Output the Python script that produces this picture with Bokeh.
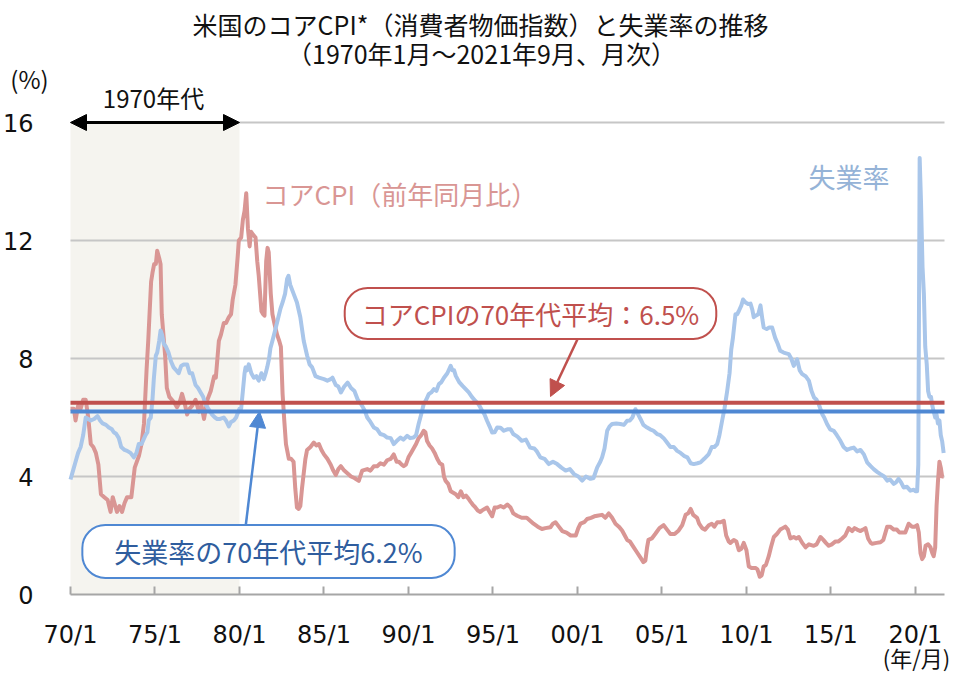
from bokeh.plotting import figure
from bokeh.models import BoxAnnotation, Label, Arrow, NormalHead, FixedTicker, ColumnDataSource
from bokeh.embed import file_html
from bokeh.resources import INLINE

# ---------------- data (decimal year, %) ----------------
cpi_t = [1970.0, 1970.2, 1970.3, 1970.45, 1970.6, 1970.75, 1970.9, 1971.05, 1971.2, 1971.35, 1971.5, 1971.65, 1971.8,
         1972.0, 1972.2, 1972.37, 1972.5, 1972.6, 1972.75, 1972.9, 1973.05, 1973.2, 1973.35, 1973.6, 1973.8,
         1974.05, 1974.2, 1974.35, 1974.5, 1974.6, 1974.77, 1974.85, 1974.95, 1975.05, 1975.13, 1975.25, 1975.33,
         1975.4, 1975.5, 1975.6, 1975.7, 1975.85, 1976.0, 1976.15, 1976.3, 1976.45, 1976.6, 1976.75, 1976.9,
         1977.05, 1977.2, 1977.4, 1977.6, 1977.75, 1977.9, 1978.1, 1978.3, 1978.5, 1978.6, 1978.78, 1978.9,
         1979.07, 1979.2, 1979.37, 1979.5, 1979.6, 1979.76, 1979.9, 1979.96, 1980.1, 1980.2, 1980.3, 1980.4,
         1980.5, 1980.6, 1980.68, 1980.8, 1980.95, 1981.05, 1981.14, 1981.3, 1981.4, 1981.48, 1981.58, 1981.66,
         1981.73, 1981.85, 1981.95, 1982.1, 1982.23, 1982.35, 1982.45, 1982.55, 1982.65, 1982.75, 1982.92,
         1983.05, 1983.2, 1983.3, 1983.4, 1983.5, 1983.6, 1983.7, 1983.8, 1983.9, 1984.0, 1984.2, 1984.4,
         1984.55, 1984.7, 1984.85, 1985.0, 1985.2, 1985.4, 1985.55, 1985.7, 1985.85, 1986.0, 1986.2, 1986.4,
         1986.6, 1986.8, 1987.06, 1987.26, 1987.56, 1987.75, 1987.95, 1988.15, 1988.34, 1988.55, 1988.74,
         1988.95, 1989.13, 1989.3, 1989.43, 1989.6, 1989.72, 1989.85, 1990.0, 1990.15, 1990.3, 1990.45, 1990.6,
         1990.75, 1990.9, 1991.0, 1991.1, 1991.25, 1991.4, 1991.55, 1991.7, 1991.85, 1992.0, 1992.1, 1992.2,
         1992.35, 1992.5, 1992.65, 1992.8, 1992.95, 1993.1, 1993.25, 1993.4, 1993.55, 1993.67, 1993.8, 1993.96,
         1994.1, 1994.25, 1994.36, 1994.5, 1994.65, 1994.8, 1994.95, 1995.1, 1995.25, 1995.45, 1995.64, 1995.85,
         1996.04, 1996.2, 1996.43, 1996.7, 1997.0, 1997.2, 1997.4, 1997.65, 1997.9, 1998.1, 1998.4, 1998.55,
         1998.7, 1998.9, 1999.1, 1999.35, 1999.6, 1999.9, 2000.05, 2000.18, 2000.4, 2000.57, 2000.8, 2001.0,
         2001.17, 2001.45, 2001.65, 2001.85, 2002.05, 2002.25, 2002.45, 2002.64, 2002.8, 2002.94, 2003.1,
         2003.33, 2003.5, 2003.73, 2003.9, 2004.02, 2004.12, 2004.2, 2004.4, 2004.6, 2004.85, 2005.1, 2005.3,
         2005.5, 2005.75, 2005.99, 2006.2, 2006.4, 2006.55, 2006.7, 2006.85, 2007.08, 2007.2, 2007.38, 2007.55,
         2007.77, 2007.95, 2008.1, 2008.27, 2008.46, 2008.66, 2008.8, 2008.95, 2009.05, 2009.25, 2009.4, 2009.55,
         2009.7, 2009.84, 2010.0, 2010.14, 2010.3, 2010.53, 2010.65, 2010.79, 2010.9, 2011.02, 2011.15, 2011.32,
         2011.45, 2011.62, 2011.8, 2012.0, 2012.15, 2012.3, 2012.45, 2012.6, 2012.8, 2012.95, 2013.1, 2013.3,
         2013.5, 2013.7, 2013.98, 2014.15, 2014.38, 2014.55, 2014.7, 2014.87, 2015.05, 2015.27, 2015.45, 2015.66,
         2015.85, 2016.05, 2016.25, 2016.4, 2016.55, 2016.75, 2016.9, 2017.04, 2017.2, 2017.35, 2017.44, 2017.7,
         2017.93, 2018.1, 2018.33, 2018.5, 2018.72, 2018.9, 2019.05, 2019.22, 2019.4, 2019.6, 2019.8, 2019.95,
         2020.1, 2020.2, 2020.3, 2020.4, 2020.5, 2020.6, 2020.75, 2020.89, 2021.0, 2021.08, 2021.17, 2021.25,
         2021.33, 2021.42, 2021.5, 2021.58, 2021.67]
cpi_v = [6.3, 6.3, 5.9, 6.4, 6.3, 6.6, 6.6, 6.0, 5.1, 5.0, 4.8, 4.4, 3.4,
         3.3, 3.2, 2.8, 3.3, 3.1, 2.8, 3.0, 2.8, 3.1, 3.3, 3.3, 4.3,
         4.7, 5.1, 5.8, 7.6, 8.6, 10.6, 10.9, 11.2, 11.2, 11.65, 11.4, 11.2,
         9.5, 8.8, 8.1, 7.0, 6.7, 6.6, 6.5, 6.35, 6.5, 6.8, 6.5, 6.1,
         6.3, 6.4, 6.6, 6.2, 6.4, 5.95, 6.6, 6.9, 7.4, 7.35, 8.6, 8.8,
         9.2, 9.2, 9.4, 9.5, 10.0, 10.5, 11.5, 12.0, 12.1, 12.7, 13.0, 13.6,
         12.4, 11.8, 12.3, 12.2, 12.1, 11.3, 10.8, 9.6, 9.5, 9.45, 11.3, 11.75,
         11.6, 10.2, 9.5, 9.1, 8.8, 8.6, 8.4, 6.8, 5.9, 5.1, 4.6,
         4.6, 4.5, 3.6, 2.95, 2.9, 3.0, 3.6, 4.1, 4.6, 4.9, 5.0, 5.15,
         5.05, 5.1, 4.9, 4.75, 4.6, 4.4, 4.2, 4.05, 4.25, 4.35, 4.2, 4.1,
         4.0, 3.95, 3.85, 4.2, 4.25, 4.2, 4.35, 4.35, 4.45, 4.4, 4.55,
         4.6, 4.75, 4.5, 4.5, 4.4, 4.35, 4.4, 4.65, 4.8, 4.95, 5.1, 5.3,
         5.4, 5.55, 5.5, 5.2, 5.05, 4.95, 4.8, 4.6, 4.45, 4.4, 4.0, 3.85,
         3.75, 3.5, 3.45, 3.4, 3.3, 3.5, 3.3, 3.35, 3.25, 3.15, 3.05, 2.95,
         2.85, 2.8, 2.85, 2.9, 2.95, 2.8, 2.65, 2.95, 2.95, 3.0, 2.95, 3.05,
         2.95, 2.75, 2.67, 2.6, 2.6, 2.5, 2.4, 2.3, 2.22, 2.25, 2.28, 2.4,
         2.45, 2.3, 2.15, 2.1, 2.0, 2.0, 2.25, 2.4, 2.45, 2.56, 2.6, 2.65,
         2.67, 2.7, 2.6, 2.75, 2.6, 2.4, 2.3, 2.17, 2.0, 1.85, 1.8,
         1.6, 1.45, 1.25, 1.1, 1.15, 1.6, 1.85, 1.9, 2.05, 2.25, 2.35, 2.2,
         2.05, 2.05, 2.17, 2.35, 2.7, 2.75, 2.9, 2.7, 2.6, 2.4, 2.25, 2.2,
         2.35, 2.4, 2.3, 2.45, 2.45, 2.5, 2.0, 1.8, 1.75, 1.85, 1.8, 1.5,
         1.55, 1.75, 1.5, 0.95, 0.9, 0.9, 0.85, 0.6, 0.65, 0.95, 1.0, 1.3,
         1.6, 1.95, 2.05, 2.2, 2.25, 2.3, 2.2, 1.9, 1.95, 1.9, 1.95, 1.75,
         1.6, 1.7, 1.65, 1.7, 1.95, 1.85, 1.75, 1.65, 1.7, 1.8, 1.8, 1.9,
         2.0, 2.25, 2.15, 2.25, 2.2, 2.15, 2.2, 2.25, 1.9, 1.75, 1.72, 1.75,
         1.77, 1.85, 2.3, 2.3, 2.2, 2.2, 2.1, 2.1, 2.1, 2.4, 2.3, 2.3,
         2.35, 2.1, 1.4, 1.2, 1.3, 1.65, 1.7, 1.6, 1.4, 1.3, 1.6, 3.0,
         3.8, 4.5, 4.3, 4.0, 4.0]

ur_t = [1970.0, 1970.15, 1970.3, 1970.45, 1970.6, 1970.75, 1970.9, 1971.05, 1971.2, 1971.4, 1971.6, 1971.75, 1971.9,
        1972.1, 1972.27, 1972.45, 1972.56, 1972.7, 1972.86, 1973.0, 1973.2, 1973.35, 1973.55, 1973.75, 1973.9,
        1974.04, 1974.2, 1974.44, 1974.55, 1974.63, 1974.75, 1974.85, 1974.93, 1975.05, 1975.13, 1975.25, 1975.33,
        1975.42, 1975.52, 1975.65, 1975.8, 1975.95, 1976.1, 1976.25, 1976.4, 1976.55, 1976.7, 1976.9, 1977.05,
        1977.2, 1977.4, 1977.55, 1977.7, 1977.85, 1977.99, 1978.15, 1978.38, 1978.55, 1978.68, 1978.85, 1979.07,
        1979.2, 1979.37, 1979.5, 1979.66, 1979.8, 1980.0, 1980.1, 1980.2, 1980.3, 1980.36, 1980.45, 1980.55,
        1980.7, 1980.85, 1981.0, 1981.14, 1981.3, 1981.44, 1981.55, 1981.64, 1981.75, 1981.83, 1981.95, 1982.13,
        1982.3, 1982.43, 1982.55, 1982.7, 1982.82, 1982.9, 1983.0, 1983.2, 1983.4, 1983.6, 1983.8, 1984.0,
        1984.15, 1984.3, 1984.5, 1984.7, 1985.0, 1985.2, 1985.4, 1985.5, 1985.7, 1985.85, 1986.0, 1986.2,
        1986.4, 1986.6, 1986.8, 1987.0, 1987.2, 1987.4, 1987.56, 1987.75, 1987.95, 1988.15, 1988.34, 1988.55,
        1988.74, 1988.95, 1989.13, 1989.3, 1989.53, 1989.7, 1989.92, 1990.1, 1990.3, 1990.45, 1990.6, 1990.75,
        1990.9, 1991.05, 1991.2, 1991.35, 1991.5, 1991.65, 1991.8, 1991.95, 1992.1, 1992.3, 1992.5, 1992.6,
        1992.7, 1992.8, 1993.0, 1993.2, 1993.4, 1993.57, 1993.75, 1993.96, 1994.15, 1994.36, 1994.5, 1994.65,
        1994.8, 1994.95, 1995.1, 1995.25, 1995.45, 1995.64, 1995.85, 1996.04, 1996.2, 1996.45, 1996.7, 1996.95,
        1997.2, 1997.45, 1997.6, 1997.8, 1998.05, 1998.3, 1998.55, 1998.8, 1999.05, 1999.3, 1999.55, 1999.8,
        2000.05, 2000.28, 2000.5, 2000.77, 2000.95, 2001.17, 2001.35, 2001.46, 2001.6, 2001.76, 2001.9, 2002.05,
        2002.3, 2002.54, 2002.75, 2002.94, 2003.1, 2003.25, 2003.43, 2003.55, 2003.73, 2003.9, 2004.12, 2004.3,
        2004.5, 2004.71, 2004.9, 2005.1, 2005.3, 2005.5, 2005.7, 2005.9, 2006.1, 2006.3, 2006.5, 2006.7,
        2006.88, 2007.1, 2007.28, 2007.5, 2007.77, 2007.95, 2008.1, 2008.27, 2008.4, 2008.56, 2008.7, 2008.86,
        2009.0, 2009.1, 2009.2, 2009.35, 2009.45, 2009.55, 2009.7, 2009.8, 2009.95, 2010.1, 2010.24, 2010.35,
        2010.43, 2010.55, 2010.7, 2010.83, 2010.95, 2011.02, 2011.2, 2011.35, 2011.52, 2011.7, 2011.85, 2012.0,
        2012.2, 2012.5, 2012.65, 2012.8, 2013.0, 2013.15, 2013.3, 2013.5, 2013.7, 2013.85, 2014.0, 2014.15,
        2014.28, 2014.48, 2014.6, 2014.77, 2014.95, 2015.17, 2015.35, 2015.56, 2015.75, 2015.95, 2016.15, 2016.35,
        2016.55, 2016.75, 2016.95, 2017.14, 2017.35, 2017.53, 2017.75, 2017.93, 2018.15, 2018.33, 2018.5, 2018.72,
        2018.85, 2019.0, 2019.15, 2019.3, 2019.5, 2019.7, 2019.9, 2020.0, 2020.1, 2020.17, 2020.25, 2020.33,
        2020.42, 2020.5, 2020.58, 2020.67, 2020.75, 2020.83, 2020.92, 2021.0, 2021.08, 2021.17, 2021.25, 2021.33,
        2021.42, 2021.5, 2021.58, 2021.67]
ur_v = [3.9, 4.2, 4.5, 4.8, 5.0, 5.4, 6.0, 5.95, 5.9, 5.95, 6.05, 5.9, 5.8,
        5.75, 5.66, 5.6, 5.5, 5.45, 5.3, 5.0, 4.9, 4.87, 4.8, 4.65, 4.8,
        5.1, 5.1, 5.4, 5.5, 5.9, 6.0, 6.6, 7.3, 8.1, 8.2, 8.6, 8.95,
        8.8, 8.5, 8.4, 8.2, 7.9, 7.7, 7.6, 7.5, 7.75, 7.8, 7.8, 7.5,
        7.5, 7.1, 7.0, 6.85, 6.7, 6.45, 6.3, 6.1, 6.0, 5.95, 5.95, 6.0,
        5.9, 5.7, 5.85, 5.9, 6.0, 6.3, 6.3, 6.9, 7.5, 7.7, 7.6, 7.8,
        7.5, 7.35, 7.4, 7.25, 7.5, 7.3, 7.5, 7.7, 8.0, 8.35, 8.6, 9.0,
        9.4, 9.7, 9.9, 10.2, 10.7, 10.8, 10.5, 10.2, 9.9, 9.4, 8.6, 8.1,
        7.8, 7.7, 7.4, 7.35, 7.3, 7.25, 7.3, 7.35, 7.1, 7.05, 6.85, 7.05,
        7.18, 7.0, 6.9, 6.6, 6.45, 6.25, 6.0, 5.85, 5.66, 5.6, 5.44, 5.4,
        5.32, 5.3, 5.1, 5.2, 5.32, 5.25, 5.38, 5.3, 5.32, 5.4, 5.78, 6.1,
        6.45, 6.6, 6.79, 6.85, 6.96, 6.9, 7.13, 7.2, 7.35, 7.5, 7.75, 7.6,
        7.6, 7.41, 7.2, 7.07, 6.95, 6.85, 6.7, 6.56, 6.45, 6.23, 6.1, 5.89,
        5.7, 5.49, 5.5, 5.66, 5.65, 5.55, 5.6, 5.6, 5.44, 5.35, 5.21, 5.25,
        4.98, 4.95, 4.85, 4.65, 4.6, 4.42, 4.5, 4.42, 4.3, 4.2, 4.25, 4.08,
        4.0, 3.86, 4.0, 3.92, 3.95, 4.31, 4.5, 4.65, 4.95, 5.55, 5.7, 5.78,
        5.8, 5.78, 5.75, 5.89, 5.9, 6.0, 6.28, 6.15, 5.95, 5.75, 5.66, 5.6,
        5.55, 5.44, 5.4, 5.3, 5.15, 5.0, 5.0, 4.87, 4.8, 4.7, 4.65, 4.45,
        4.42, 4.45, 4.48, 4.6, 4.76, 5.0, 5.0, 5.1, 5.4, 5.89, 6.3, 6.9,
        7.5, 8.3, 8.7, 9.5, 9.5, 9.61, 9.8, 10.0, 9.9, 9.85, 9.86, 9.65,
        9.4, 9.45, 9.5, 9.8, 9.3, 9.05, 9.0, 9.05, 9.05, 8.7, 8.5, 8.26,
        8.2, 8.15, 8.0, 7.75, 7.97, 7.6, 7.47, 7.4, 7.24, 6.9, 6.68, 6.6,
        6.45, 6.12, 6.0, 5.78, 5.6, 5.55, 5.4, 5.21, 5.0, 4.9, 4.95, 4.98,
        4.85, 4.9, 4.75, 4.48, 4.35, 4.25, 4.15, 4.08, 4.0, 3.86, 3.9, 3.75,
        3.8, 3.92, 3.8, 3.63, 3.65, 3.52, 3.55, 3.5, 3.5, 4.4, 14.8, 13.3,
        11.1, 10.2, 8.4, 7.8, 6.9, 6.7, 6.7, 6.4, 6.2, 6.0, 6.1, 5.8,
        5.9, 5.4, 5.2, 4.8]

avg_cpi_70s = 6.5
avg_ur_70s = 6.2
decade_start, decade_end = 1970, 1980

tick_years = [1970, 1975, 1980, 1985, 1990, 1995, 2000, 2005, 2010, 2015, 2020]
tick_labels = ["70/1", "75/1", "80/1", "85/1", "90/1", "95/1", "00/1", "05/1", "10/1", "15/1", "20/1"]
y_ticks = [0, 4, 8, 12, 16]

title_text = "米国のコアCPI*（消費者物価指数）と失業率の推移"
subtitle_text = "（1970年1月～2021年9月、月次）"

# ---------------- layout (the frame fills the canvas; axes sit at fixed data locations) ----------------
W, H = 958, 674
PL, PR, PT, PB = 70, 944, 122, 594      # plot-area edges in canvas px
X0, X1 = 1970.0, 2021.72
Y0, Y1 = 0, 16
ppx = (PR - PL) / (X1 - X0)
ppy = (PB - PT) / (Y1 - Y0)

def dx(px):
    return X0 + (px - PL) / ppx

def dy(py):
    return (PB - py) / ppy

JP = "Noto Sans CJK JP"
NUM = "DejaVu Sans"

CPI_COL = "#d99694"
UR_COL = "#a9c6ea"
RED = "#c0504d"
BLUE = "#4f88d3"
GRID = "#c6c6c6"
AXIS = "#a6a6a6"

p = figure(width=W, height=H, output_backend="svg", toolbar_location=None,
           x_range=(dx(0), dx(W)), y_range=(dy(H), dy(0)),
           min_border_left=0, min_border_right=0, min_border_top=0, min_border_bottom=0)
p.outline_line_color = None
p.background_fill_color = "white"
p.border_fill_color = "white"
p.xgrid.visible = False
p.ygrid.visible = False

# decade shading
p.add_layout(BoxAnnotation(left=decade_start, right=decade_end, bottom=Y0, top=Y1,
                           fill_color="#f5f4ef", fill_alpha=1.0, line_color=None, level="image"))

# horizontal grid lines at the y ticks (except 0, which is the axis)
grid_y = [t for t in y_ticks if t > 0]
p.segment(x0=[X0] * len(grid_y), x1=[X1] * len(grid_y), y0=grid_y, y1=grid_y,
          line_color=GRID, line_width=2)

# axes
p.xaxis.fixed_location = 0
p.xaxis.bounds = (X0, X1)
p.xaxis.ticker = FixedTicker(ticks=tick_years)
p.xaxis.major_label_overrides = {y: l for y, l in zip(tick_years, tick_labels)}
p.xaxis.axis_line_color = AXIS
p.xaxis.axis_line_width = 2
p.xaxis.major_tick_line_color = AXIS
p.xaxis.major_tick_line_width = 2
p.xaxis.major_tick_in = 8
p.xaxis.major_tick_out = 0
p.xaxis.minor_tick_line_color = None
p.xaxis.major_label_standoff = 26
p.xaxis.major_label_text_font = NUM
p.xaxis.major_label_text_font_size = "24px"
p.xaxis.major_label_text_color = "#111111"

p.yaxis.fixed_location = X0
p.yaxis.bounds = (Y0, Y1)
p.yaxis.ticker = FixedTicker(ticks=y_ticks)
p.yaxis.axis_line_color = None
p.yaxis.major_tick_line_color = None
p.yaxis.minor_tick_line_color = None
p.yaxis.major_label_standoff = 31
p.yaxis.major_label_text_font = NUM
p.yaxis.major_label_text_font_size = "24px"
p.yaxis.major_label_text_color = "#111111"

# data lines
src_cpi = ColumnDataSource(dict(t=cpi_t, v=cpi_v))
src_ur = ColumnDataSource(dict(t=ur_t, v=ur_v))
p.line("t", "v", source=src_cpi, line_color=CPI_COL, line_width=4, line_join="round")
p.line("t", "v", source=src_ur, line_color=UR_COL, line_width=4, line_join="round")

# 70s averages
p.segment(x0=[X0], x1=[X1], y0=[avg_cpi_70s], y1=[avg_cpi_70s], line_color=RED, line_width=4)
p.segment(x0=[X0], x1=[X1], y0=[avg_ur_70s], y1=[avg_ur_70s], line_color=BLUE, line_width=4)

# decade double arrow
p.add_layout(Arrow(x_start=decade_start, y_start=Y1, x_end=decade_end, y_end=Y1,
                   start=NormalHead(size=16, fill_color="black", line_color="black"),
                   end=NormalHead(size=16, fill_color="black", line_color="black"),
                   line_color="black", line_width=3))

# pointer arrows
p.add_layout(Arrow(x_start=dx(583), y_start=dy(326), x_end=dx(550), y_end=dy(396),
                   end=NormalHead(size=16, fill_color=RED, line_color=RED),
                   line_color=RED, line_width=2.5))
p.add_layout(Arrow(x_start=dx(245), y_start=dy(527), x_end=dx(259), y_end=dy(411),
                   end=NormalHead(size=16, fill_color=BLUE, line_color=BLUE),
                   line_color=BLUE, line_width=2.5))

def add_label(text, px, py, size, color="#111111", align="center", **kw):
    lab = Label(x=dx(px), y=dy(py), text=text, text_font=JP, text_font_size=size,
                text_color=color, text_align=align, text_baseline="middle", **kw)
    p.add_layout(lab)
    return lab

add_label(title_text, 480, 23, "25px")
add_label(subtitle_text, 481, 52, "25px")
add_label("(%)", 29, 78, "24px")
add_label("1970年代", 153, 97, "24px")
add_label("コアCPI（前年同月比）", 262, 193, "26px", color=CPI_COL, align="left")
add_label("失業率", 808, 176, "27px", color="#95b3d7", align="left")
add_label("(年/月)", 916, 656, "22px")

add_label("コアCPIの70年代平均：6.5%", 530, 313, "26px", color=RED,
          background_fill_color="white", border_line_color=RED, border_line_width=2,
          padding=dict(top=7, bottom=7, left=17, right=17), border_radius=23)
add_label("失業率の70年代平均6.2%", 268, 551, "27px", color="#2f5d9e",
          background_fill_color="white", border_line_color=BLUE, border_line_width=2,
          padding=dict(top=7, bottom=7, left=32, right=32), border_radius=23)

open("out.html", "w").write(file_html(p, INLINE))
